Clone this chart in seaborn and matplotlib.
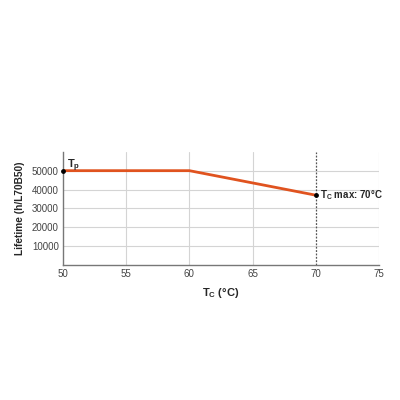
import numpy as np
import pandas as pd
import matplotlib
matplotlib.use('Agg')
import matplotlib.pyplot as plt
import seaborn as sns

# datos
temp_c = [50, 60, 70]
lifetime_h = [50000, 50000, 37000]
x_ticks = [50, 55, 60, 65, 70, 75]
y_ticks = [10000, 20000, 30000, 40000, 50000]
tc_max = 70

sns.set_style('white')
plt.rcParams['font.family'] = ['Liberation Sans', 'DejaVu Sans']

df = pd.DataFrame({'tc': temp_c, 'life': lifetime_h})

fig = plt.figure(figsize=(4, 4), dpi=100)
ax = fig.add_axes([0.1575, 0.3375, 0.79, 0.283])

for xv in x_ticks[1:]:
    if xv == tc_max:
        continue
    ax.axvline(xv, color='#d4d4d4', lw=0.8, zorder=0)
for yv in y_ticks:
    ax.axhline(yv, color='#d4d4d4', lw=0.8, zorder=0)
ax.axvline(tc_max, color='#555555', lw=0.9, ls=(0, (1.5, 1.2)), zorder=1)

sns.lineplot(data=df, x='tc', y='life', color='#e0531f', lw=2, ax=ax, zorder=2)
ax.scatter([temp_c[0], temp_c[-1]], [lifetime_h[0], lifetime_h[-1]],
           color='black', s=6, zorder=3, clip_on=False)

ax.text(50.3, 51500, r'T$_\mathregular{p}$', fontsize=8, fontweight='bold')
ax.text(70.3, 35200, r'T$_\mathregular{C}$ max: 70°C', fontsize=7, fontweight='bold')

ax.set_xlim(50, 75)
ax.set_ylim(0, 60000)
ax.set_xticks(x_ticks)
ax.set_yticks(y_ticks)
ax.tick_params(labelsize=7, length=0, pad=3, colors='#444444')
ax.set_xlabel(r'T$_\mathregular{C}$ (°C)', fontsize=8, fontweight='bold', labelpad=5)
ax.set_ylabel('Lifetime (h/L70B50)', fontsize=7.3, fontweight='bold', labelpad=5)

for s in ['top', 'right']:
    ax.spines[s].set_visible(False)
ax.spines['left'].set_color('#777777')
ax.spines['bottom'].set_color('#777777')
ax.spines['left'].set_linewidth(1)
ax.spines['bottom'].set_linewidth(1)

fig.savefig('out.png', dpi=100, facecolor='white')
